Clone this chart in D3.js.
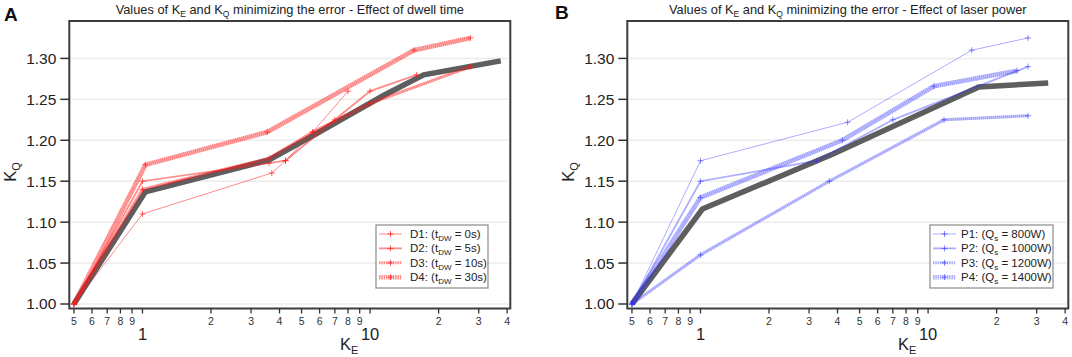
<!DOCTYPE html>
<html>
<head>
<meta charset="utf-8">
<script src="https://cdn.jsdelivr.net/npm/d3@7"></script>
<style>
  body { margin: 0; background: #fff; }
  svg { display: block; font-family: "Liberation Sans", Arial, sans-serif; }
</style>
</head>
<body>
<svg id="chart" width="1072" height="357"></svg>
<script>
// tick values and labels for the log x axis
const xMinorTicks = [0.5, 0.6, 0.7, 0.8, 0.9, 2, 3, 4, 5, 6, 7, 8, 9, 20, 30, 40];
const xMinorLabels = ["5", "6", "7", "8", "9", "2", "3", "4", "5", "6", "7", "8", "9", "2", "3", "4"];
const xMajorTicks = [1, 10];
const xMajorLabels = ["1", "10"];
const yTicks = [1.00, 1.05, 1.10, 1.15, 1.20, 1.25, 1.30];

// panel A - dwell time
const dwellNames = ["D1", "D2", "D3", "D4"];
const dwellTimes = ["0s", "5s", "10s", "30s"];
const d1KE = [0.5, 1.0, 3.7, 4.25, 5.6, 8.0];
const d1KQ = [1.00, 1.11, 1.16, 1.175, 1.21, 1.26];
const d2KE = [0.5, 1.0, 3.6, 4.25, 7.0, 10.0, 16.0];
const d2KQ = [1.00, 1.15, 1.172, 1.175, 1.225, 1.26, 1.28];
const d3KE = [0.5, 1.0, 3.6, 5.6, 10.0, 27.6];
const d3KQ = [1.00, 1.14, 1.178, 1.21, 1.245, 1.29];
const d4KE = [0.5, 1.03, 3.53, 15.6, 27.6];
const d4KQ = [1.00, 1.17, 1.21, 1.31, 1.325];
const meanAKE = [0.5, 1.03, 3.6, 5.8, 11.5, 17.2, 37.5];
const meanAKQ = [1.00, 1.137, 1.176, 1.208, 1.255, 1.28, 1.297];

// panel B - laser power
const powerNames = ["P1", "P2", "P3", "P4"];
const powerValues = ["800W", "1000W", "1200W", "1400W"];
const p1KE = [0.5, 1.0, 4.43, 15.55, 27.5];
const p1KQ = [1.00, 1.175, 1.222, 1.31, 1.325];
const p2KE = [0.5, 1.0, 3.25, 7.0, 27.5];
const p2KQ = [1.00, 1.15, 1.175, 1.225, 1.29];
const p3KE = [0.5, 1.0, 3.68, 11.75, 27.5];
const p3KQ = [1.00, 1.06, 1.15, 1.225, 1.23];
const p4KE = [0.5, 1.0, 4.2, 10.6, 24.6];
const p4KQ = [1.00, 1.13, 1.20, 1.266, 1.285];
const meanBKE = [0.5, 1.02, 3.8, 16.7, 33.7];
const meanBKQ = [1.00, 1.116, 1.183, 1.265, 1.27];

const zip = (a, b) => a.map((v, i) => [v, b[i]]);

// line styles per series index (thin -> thick)
const widths = [1, 1.8, 3, 4.6];
const hatched = [false, false, true, true];

const svg = d3.select("#chart");

function drawPanel(cfg) {
  const g = svg.append("g");
  const x = d3.scaleLog().domain([0.477, 41.3]).range([cfg.left, cfg.left + 441]);
  const y = d3.scaleLinear().domain([0.9945, 1.3457]).range([308.5, 21]);

  // grid
  g.selectAll(".grid").data(yTicks).join("line")
    .attr("x1", cfg.left + 2).attr("x2", cfg.left + 439)
    .attr("y1", d => y(d)).attr("y2", d => y(d))
    .attr("stroke", "#ececec").attr("stroke-width", 1.5);

  const line = d3.line().x(d => x(d[0])).y(d => y(d[1]));

  // grey reference line
  g.append("path")
    .datum(zip(cfg.meanKE, cfg.meanKQ))
    .attr("fill", "none")
    .attr("stroke", "#5e5e5e")
    .attr("stroke-width", 5.5)
    .attr("d", line);

  const cross = "M-3,0H3M0,-3V3";

  cfg.series.forEach((s, i) => {
    const pts = zip(s.ke, s.kq);
    g.append("path").datum(pts)
      .attr("fill", "none")
      .attr("stroke", cfg.color)
      .attr("stroke-opacity", hatched[i] ? cfg.op * 0.7 : cfg.op)
      .attr("stroke-width", widths[i])
      .attr("d", line);
    if (hatched[i]) {
      g.append("path").datum(pts)
        .attr("fill", "none")
        .attr("stroke", cfg.color)
        .attr("stroke-opacity", cfg.op * 0.7)
        .attr("stroke-width", widths[i])
        .attr("stroke-dasharray", "1,1")
        .attr("d", line);
    }
    g.selectAll(null).data(pts).join("path")
      .attr("transform", d => `translate(${x(d[0])},${y(d[1])})`)
      .attr("d", cross)
      .attr("stroke", cfg.color)
      .attr("stroke-opacity", cfg.op + 0.15)
      .attr("stroke-width", 1);
  });

  // frame
  g.append("rect")
    .attr("x", cfg.left).attr("y", 21)
    .attr("width", 441).attr("height", 287.5)
    .attr("fill", "none")
    .attr("stroke", "#3c3c3c")
    .attr("stroke-width", 2);

  // y axis ticks and labels
  g.selectAll(".yt").data(yTicks).join("line")
    .attr("x1", cfg.left - 9).attr("x2", cfg.left)
    .attr("y1", d => y(d)).attr("y2", d => y(d))
    .attr("stroke", "#333").attr("stroke-width", 1.5);
  g.selectAll(".yl").data(yTicks).join("text")
    .attr("x", cfg.left - 13)
    .attr("y", d => y(d) + 5.5)
    .attr("text-anchor", "end")
    .attr("font-size", "15.5px")
    .attr("fill", "#222")
    .text(d => d.toFixed(2));

  // x axis ticks and labels
  const x0 = 308.5;
  g.selectAll(".xt").data(xMinorTicks.concat(xMajorTicks)).join("line")
    .attr("x1", d => x(d)).attr("x2", d => x(d))
    .attr("y1", x0).attr("y2", x0 + 5)
    .attr("stroke", "#333").attr("stroke-width", 1.3);
  g.selectAll(".xl").data(xMinorTicks).join("text")
    .attr("x", d => x(d))
    .attr("y", 324.5)
    .attr("text-anchor", "middle")
    .attr("font-size", "10.5px")
    .attr("fill", "#333")
    .text((d, i) => xMinorLabels[i]);
  g.selectAll(".xm").data(xMajorTicks).join("text")
    .attr("x", d => x(d))
    .attr("y", 340)
    .attr("text-anchor", "middle")
    .attr("font-size", "16.5px")
    .attr("fill", "#222")
    .text((d, i) => xMajorLabels[i]);

  // axis titles
  const ke = g.append("text")
    .attr("x", x(10) - 30).attr("y", 350)
    .attr("font-size", "16.5px").attr("fill", "#222");
  ke.append("tspan").text("K");
  ke.append("tspan").attr("font-size", "11px").attr("dy", 4).text("E");

  const kq = g.append("text")
    .attr("transform", `translate(${cfg.left - 53},172) rotate(-90)`)
    .attr("text-anchor", "middle")
    .attr("font-size", "16.5px").attr("fill", "#222");
  kq.append("tspan").text("K");
  kq.append("tspan").attr("font-size", "11px").attr("dy", 4).text("Q");

  // title
  const t = g.append("text")
    .attr("x", cfg.left + 220.5).attr("y", 13.5)
    .attr("text-anchor", "middle")
    .attr("font-size", "12.8px").attr("fill", "#222");
  t.append("tspan").text("Values of K");
  t.append("tspan").attr("font-size", "8.5px").attr("dy", 3).text("E");
  t.append("tspan").attr("dy", -3).text(" and K");
  t.append("tspan").attr("font-size", "8.5px").attr("dy", 3).text("Q");
  t.append("tspan").attr("dy", -3).text(" minimizing the error - Effect of " + cfg.effect);

  // panel letter
  g.append("text")
    .attr("x", cfg.letterX).attr("y", cfg.letterY)
    .attr("font-size", "19px").attr("font-weight", "bold")
    .attr("fill", "#111")
    .text(cfg.letter);

  // legend
  const lg = g.append("g");
  lg.append("rect")
    .attr("x", cfg.legX).attr("y", 225)
    .attr("width", cfg.legW).attr("height", 63)
    .attr("fill", "#fff")
    .attr("stroke", "#8a8a8a").attr("stroke-width", 1.2);
  cfg.series.forEach((s, i) => {
    const ly = 234 + i * 14.4;
    const sx = cfg.legX + 3;
    lg.append("line")
      .attr("x1", sx).attr("x2", sx + 23).attr("y1", ly).attr("y2", ly)
      .attr("stroke", cfg.color)
      .attr("stroke-opacity", cfg.op)
      .attr("stroke-width", widths[i])
      .attr("stroke-dasharray", hatched[i] ? "1.5,0.8" : null);
    lg.append("path")
      .attr("transform", `translate(${sx + 11.5},${ly})`)
      .attr("d", cross)
      .attr("stroke", cfg.color).attr("stroke-opacity", cfg.op + 0.2);
    const tx = lg.append("text")
      .attr("x", cfg.legX + cfg.textOff).attr("y", ly + 4)
      .attr("font-size", "11.5px").attr("fill", "#222");
    tx.append("tspan").text(s.name + ": (" + cfg.sym);
    tx.append("tspan").attr("font-size", "8px").attr("dy", 3).text(cfg.sub);
    tx.append("tspan").attr("dy", -3).text(" = " + s.value + ")");
  });
}

drawPanel({
  left: 69.3, letter: "A", letterX: 4, letterY: 21, effect: "dwell time",
  color: "#ff1a1a", op: 0.5, meanKE: meanAKE, meanKQ: meanAKQ,
  legX: 376, legW: 112, textOff: 34, sym: "t", sub: "DW",
  series: [
    { name: dwellNames[0], value: dwellTimes[0], ke: d1KE, kq: d1KQ },
    { name: dwellNames[1], value: dwellTimes[1], ke: d2KE, kq: d2KQ },
    { name: dwellNames[2], value: dwellTimes[2], ke: d3KE, kq: d3KQ },
    { name: dwellNames[3], value: dwellTimes[3], ke: d4KE, kq: d4KQ }
  ]
});

drawPanel({
  left: 627.3, letter: "B", letterX: 555, letterY: 19, effect: "laser power",
  color: "#3333ff", op: 0.4, meanKE: meanBKE, meanKQ: meanBKQ,
  legX: 930, legW: 123, textOff: 31, sym: "Q", sub: "s",
  series: [
    { name: powerNames[0], value: powerValues[0], ke: p1KE, kq: p1KQ },
    { name: powerNames[1], value: powerValues[1], ke: p2KE, kq: p2KQ },
    { name: powerNames[2], value: powerValues[2], ke: p3KE, kq: p3KQ },
    { name: powerNames[3], value: powerValues[3], ke: p4KE, kq: p4KQ }
  ]
});
</script>
</body>
</html>
